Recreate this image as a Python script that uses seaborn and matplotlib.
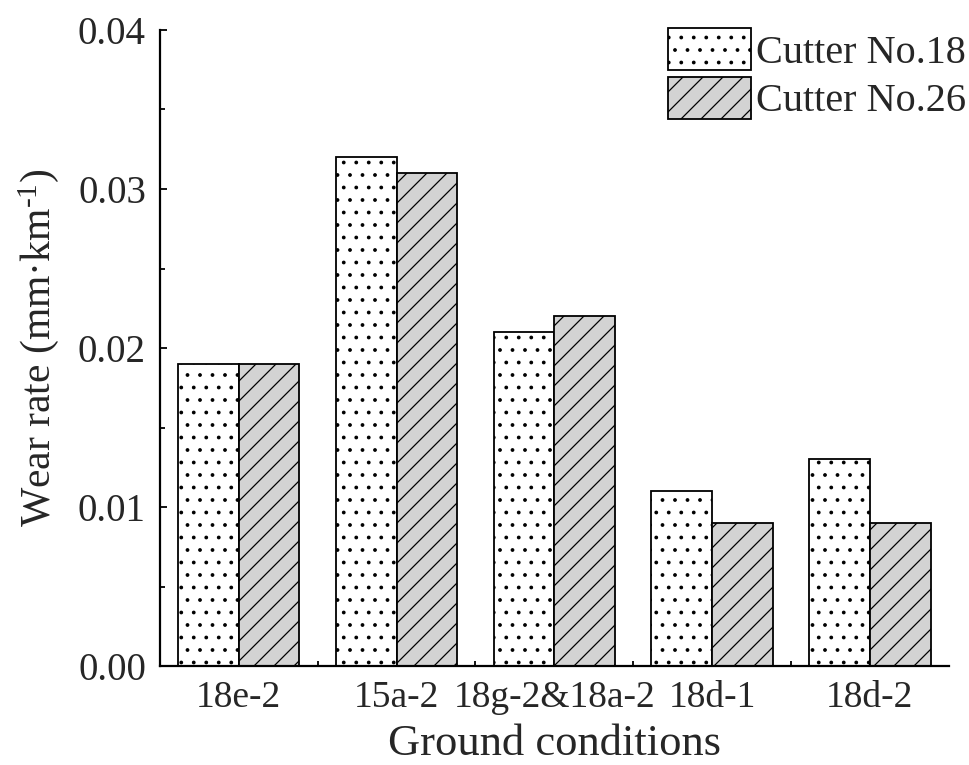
import matplotlib
matplotlib.use("Agg")
import matplotlib.pyplot as plt
import matplotlib.patches as mpatches
from matplotlib.backend_bases import GraphicsContextBase
from matplotlib.path import Path
from matplotlib.ticker import MultipleLocator, FixedLocator, FormatStrFormatter
import seaborn as sns
import pandas as pd

conditions = ["18e-2", "15a-2", "18g-2&18a-2", "18d-1", "18d-2"]
cutter18 = [0.019, 0.032, 0.021, 0.011, 0.013]
cutter26 = [0.019, 0.031, 0.022, 0.009, 0.009]
series = ["Cutter No.18", "Cutter No.26"]
face_colors = ["white", "#d3d3d3"]
hatches = [".", "//"]


# hatch densities tuned to resemble the reference stipple / diagonal fill
def _hatch_path(self, density=6.0):
    h = self.get_hatch()
    if h is None:
        return None
    if set(h) == {"."}:
        density = 8
    elif set(h) == {"/"}:
        density = 5
    return Path.hatch(h, density)


GraphicsContextBase.get_hatch_path = _hatch_path

df = pd.DataFrame({
    "Ground conditions": conditions * 2,
    "Wear rate": cutter18 + cutter26,
    "Cutter": [series[0]] * len(conditions) + [series[1]] * len(conditions),
})

sns.set_theme(style="ticks")
plt.rcParams["font.family"] = ["Liberation Serif", "DejaVu Serif"]
plt.rcParams["hatch.color"] = "black"
plt.rcParams["hatch.linewidth"] = 0.9
plt.rcParams["mathtext.fontset"] = "custom"
plt.rcParams["mathtext.rm"] = "Liberation Serif"
plt.rcParams["mathtext.it"] = "Liberation Serif:italic"

fig = plt.figure(figsize=(9.69, 7.65), dpi=100)
ax = fig.add_axes([0.165, 0.129, 0.814, 0.832])

sns.barplot(data=df, x="Ground conditions", y="Wear rate", hue="Cutter",
            hue_order=series, order=conditions, palette=face_colors,
            saturation=1, width=0.77, edgecolor="black", linewidth=1.3,
            legend=False, ax=ax)

for cont, h in zip(ax.containers, hatches):
    for p in cont.patches:
        p.set_hatch(h)
        p.set_edgecolor("black")

ax.set_xlim(-0.5, 4.5)
ax.set_ylim(0, 0.04)
ax.yaxis.set_major_locator(MultipleLocator(0.01))
ax.yaxis.set_minor_locator(MultipleLocator(0.005))
ax.yaxis.set_major_formatter(FormatStrFormatter("%.2f"))
ax.xaxis.set_minor_locator(FixedLocator([0.5, 1.5, 2.5, 3.5]))

for s in ["top", "right"]:
    ax.spines[s].set_visible(False)
for s in ["left", "bottom"]:
    ax.spines[s].set_linewidth(1.6)
    ax.spines[s].set_color("black")

ax.tick_params(axis="both", which="major", direction="in", length=5, width=1.3,
               color="black", pad=10)
ax.tick_params(axis="both", which="minor", direction="in", length=3.5, width=1.3,
               color="black")
ax.tick_params(axis="y", labelsize=28)
ax.tick_params(axis="x", labelsize=27)

ax.set_xlabel("Ground conditions", fontsize=32, labelpad=7)
ax.set_ylabel(r"Wear rate (mm·km$^{\text{-}1}$)", fontsize=30, labelpad=12)

handles = [mpatches.Patch(facecolor=fc, edgecolor="black", hatch=h, linewidth=1.3, label=lab)
           for fc, h, lab in zip(face_colors, hatches, series)]
ax.legend(handles=handles, loc="upper left", bbox_to_anchor=(0.689, 0.963),
          bbox_transform=fig.transFigure, frameon=False, fontsize=29,
          handlelength=2.08, handleheight=1.22, handletextpad=0.12,
          labelspacing=0.13, borderpad=0, borderaxespad=0)

fig.savefig("out.png", dpi=100)
